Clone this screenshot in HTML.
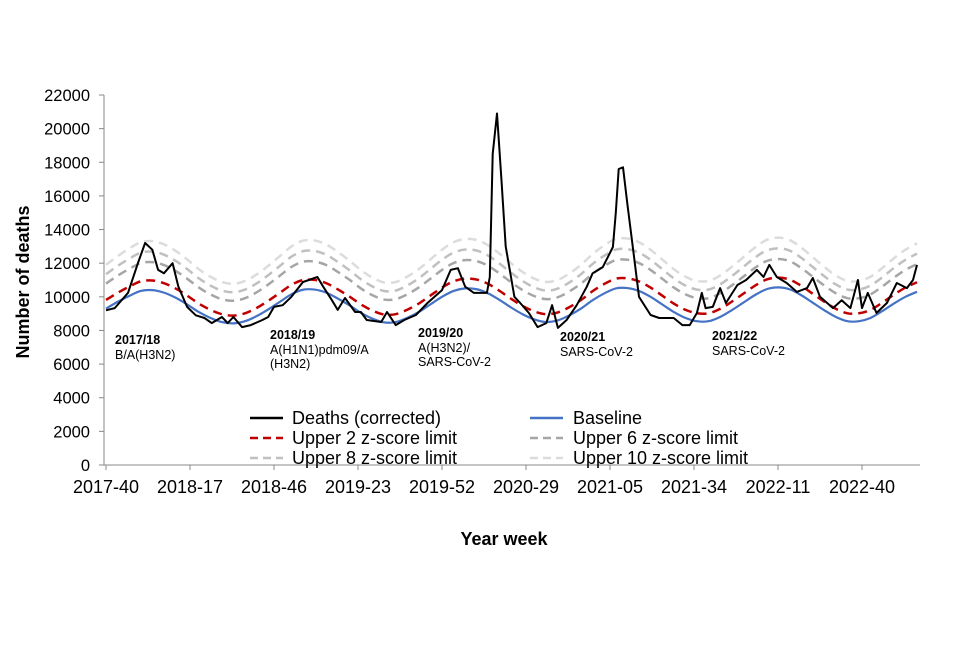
<!DOCTYPE html>
<html><head><meta charset="utf-8"><style>
body{margin:0;background:#fff;}
svg{font-family:"Liberation Sans",Arial,sans-serif;}
</style></head><body>
<svg id="chart" width="960" height="640" viewBox="0 0 960 640" xmlns="http://www.w3.org/2000/svg">
<rect width="960" height="640" fill="#fff"/>
<g id="grid"></g>
<g id="series"></g>
<g id="axes"></g>
<g id="annot" font-size="12.5" fill="#000">
<text x="115" y="344" font-weight="bold">2017/18</text>
<text x="115" y="359">B/A(H3N2)</text>
<text x="270" y="339" font-weight="bold">2018/19</text>
<text x="270" y="354">A(H1N1)pdm09/A</text>
<text x="270" y="368">(H3N2)</text>
<text x="418" y="337" font-weight="bold">2019/20</text>
<text x="418" y="352">A(H3N2)/</text>
<text x="418" y="366">SARS-CoV-2</text>
<text x="560" y="341" font-weight="bold">2020/21</text>
<text x="560" y="356">SARS-CoV-2</text>
<text x="712" y="340" font-weight="bold">2021/22</text>
<text x="712" y="355">SARS-CoV-2</text>
</g>
<g id="legend" font-size="18" fill="#000">
<g><line x1="250" y1="418" x2="283" y2="418" stroke="#000" stroke-width="2.5"/><text x="292" y="424">Deaths (corrected)</text></g>
<g><line x1="530" y1="418" x2="563" y2="418" stroke="#4472c4" stroke-width="2.5"/><text x="573" y="424">Baseline</text></g>
<g><line x1="250" y1="438" x2="283" y2="438" stroke="#c00000" stroke-width="2.5" stroke-dasharray="8,5"/><text x="292" y="444">Upper 2 z-score limit</text></g>
<g><line x1="530" y1="438" x2="563" y2="438" stroke="#a6a6a6" stroke-width="2.5" stroke-dasharray="8,5"/><text x="573" y="444">Upper 6 z-score limit</text></g>
<g><line x1="250" y1="458" x2="283" y2="458" stroke="#c0c0c0" stroke-width="2.5" stroke-dasharray="8,5"/><text x="292" y="464">Upper 8 z-score limit</text></g>
<g><line x1="530" y1="458" x2="563" y2="458" stroke="#dcdcdc" stroke-width="2.5" stroke-dasharray="8,5"/><text x="573" y="464">Upper 10 z-score limit</text></g>
</g>
<text transform="translate(29,282) rotate(-90)" text-anchor="middle" font-size="18" font-weight="bold">Number of deaths</text>
<text x="504" y="545" text-anchor="middle" font-size="18" font-weight="bold">Year week</text>
</svg>
<script>
const yTicks=[0,2000,4000,6000,8000,10000,12000,14000,16000,18000,20000,22000];
const xTickLabels=["2017-40","2018-17","2018-46","2019-23","2019-52","2020-29","2021-05","2021-34","2022-11","2022-40"];
const xTickWeeks=[0,29,58,87,116,145,174,203,232,261];
const baselineWeeks=[0,4,8,12,16,20,24,28,32,36,40,44,48,52,56,60,64,68,72,76,80,84,88,92,96,100,104,108,112,116,120,124,128,132,136,140,144,148,152,156,160,164,168,172,176,180,184,188,192,196,200,204,208,212,216,220,224,228,232,236,240,244,248,252,256,260,264,268,272,276,280];
const baselineValues=[9300,9700,10050,10350,10400,10250,9950,9550,9100,8750,8500,8420,8550,8850,9250,9700,10150,10420,10430,10250,9900,9500,9050,8700,8480,8500,8750,9100,9550,10000,10350,10500,10450,10200,9800,9350,8950,8650,8500,8600,8900,9300,9800,10200,10500,10520,10350,10000,9550,9100,8750,8550,8550,8800,9200,9650,10100,10450,10560,10450,10100,9650,9200,8800,8550,8550,8750,9150,9600,10000,10300];
const upper2Factor=1.055, upper6Factor=1.16, upper8Factor=1.22, upper10Factor=1.28;
const deathWeeks=[0,3,7.6,11,13.5,16,18,20,23,25,28,31,34,36.5,40,42,44,47,50,54,56,58,61,64,68,70,73,75,78,80,82.5,86,88,90,95,97,100,103,107,111,116,119,121.5,124,127,131.5,132.5,133.5,135,136.5,138,140,141,143,146,149,152,154,156,159,162.5,166,168,171.5,175,176,177,178.5,180,182,184,188,191,196,199,201.5,204,205.7,207,209.5,212,214,218,221,224.7,227,229,231.6,235,238.5,242,244,246.5,251,254,257,259.6,261,263,266,269.6,273,276.5,278.6,280];
const deathValues=[9200,9330,10230,12000,13200,12800,11600,11400,12000,10600,9400,8900,8740,8440,8800,8440,8800,8200,8320,8620,8800,9400,9500,10000,10880,11000,11180,10600,9800,9220,9930,9100,9100,8620,8500,9100,8320,8620,8920,9630,10400,11600,11700,10600,10230,10230,11180,18500,20900,17000,13000,11000,10000,9630,9040,8200,8440,9500,8150,8620,9500,10600,11400,11770,12960,15000,17600,17700,15500,12780,10000,8920,8740,8740,8320,8320,9040,10230,9330,9400,10520,9630,10700,11000,11600,11180,11900,11180,10820,10290,10520,11120,10000,9330,9800,9330,11000,9330,10230,9040,9630,10820,10520,11000,11900];

const NS="http://www.w3.org/2000/svg";
const X0=106, PXW=84/29, Y0=465, YTOP=95, YMAX=22000;
function xs(w){return X0+w*PXW;}
function ys(v){return Y0-v*(Y0-YTOP)/YMAX;}
function mk(tag,attrs,parent){const e=document.createElementNS(NS,tag);for(const k in attrs)e.setAttribute(k,attrs[k]);parent.appendChild(e);return e;}
const axes=document.getElementById('axes'), series=document.getElementById('series');
const yAxis=mk('line',{x1:104,y1:YTOP,x2:104,y2:Y0,stroke:'#888','stroke-width':1},axes);


const xAxis=mk('line',{x1:104,y1:Y0,x2:920,y2:Y0,stroke:'#888','stroke-width':1},axes);


yTicks.forEach(v=>{
  mk('line',{x1:99,y1:ys(v),x2:104,y2:ys(v),stroke:'#888'},axes);
  const t=mk('text',{x:90,y:ys(v)+6,'text-anchor':'end','font-size':16.5},axes);
  t.textContent=v;
  
  
});
xTickLabels.forEach((l,i)=>{
  const x=xs(xTickWeeks[i]);
  mk('line',{x1:x,y1:Y0,x2:x,y2:Y0+5,stroke:'#888'},axes);
  const t=mk('text',{x:x,y:Y0+28,'text-anchor':'middle','font-size':18},axes);
  t.textContent=l;
  
  
});
function pathFrom(ws,vs){return ws.map((w,i)=>(i?'L':'M')+xs(w).toFixed(1)+','+ys(vs[i]).toFixed(1)).join('');}
function smooth(ws,vs){
  let d='M'+xs(ws[0])+','+ys(vs[0]);
  for(let i=0;i<ws.length-1;i++){
    const p0=[xs(ws[Math.max(i-1,0)]),ys(vs[Math.max(i-1,0)])],p1=[xs(ws[i]),ys(vs[i])],p2=[xs(ws[i+1]),ys(vs[i+1])],p3=[xs(ws[Math.min(i+2,ws.length-1)]),ys(vs[Math.min(i+2,ws.length-1)])];
    d+='C'+(p1[0]+(p2[0]-p0[0])/6)+','+(p1[1]+(p2[1]-p0[1])/6)+' '+(p2[0]-(p3[0]-p1[0])/6)+','+(p2[1]-(p3[1]-p1[1])/6)+' '+p2[0]+','+p2[1];
  }
  return d;
}
const lims=[['upper-10-limit',upper10Factor,'#dcdcdc'],['upper-8-limit',upper8Factor,'#c0c0c0'],['upper-6-limit',upper6Factor,'#a6a6a6']];
lims.forEach(([n,f,c])=>{
  const p=mk('path',{d:smooth(baselineWeeks,baselineValues.map(v=>v*f)),fill:'none',stroke:c,'stroke-width':2.5,'stroke-dasharray':'9,6'},series);
  
  
});
const bl=mk('path',{d:smooth(baselineWeeks,baselineValues),fill:'none',stroke:'#4472c4','stroke-width':2.2},series);


const u2=mk('path',{d:smooth(baselineWeeks,baselineValues.map(v=>v*upper2Factor)),fill:'none',stroke:'#c00000','stroke-width':2.5,'stroke-dasharray':'9,6'},series);


const dl=mk('path',{d:pathFrom(deathWeeks,deathValues),fill:'none',stroke:'#000','stroke-width':2,'stroke-linejoin':'round'},series);


</script>
</body></html>
